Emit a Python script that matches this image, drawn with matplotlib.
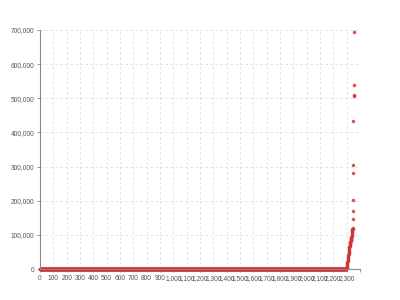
import matplotlib
matplotlib.use("Agg")
import matplotlib.pyplot as plt
import numpy as np
from matplotlib.ticker import FuncFormatter

# flat part: values stay at ~0 for the first 2298 entries
flat_count = 2298
flat_value = 0

# rising tail
tail_values = [
    1000, 2500, 4500, 7000, 9500, 12000, 15000, 18000, 21000, 24000,
    27000, 30000, 33000, 36000, 39000, 42000, 45000, 48000, 51000, 54000,
    57000, 60000, 63000, 65000, 67000, 70000, 72000, 74000, 76000, 78000,
    80000, 82000, 84000, 86000, 88000, 89000, 90000, 92000, 95000, 98000,
    101000, 104000, 107000, 110000, 113000, 116000, 118000, 120000,
]

# outliers at the very end
outlier_values = [147000, 170000, 202000, 282000, 304000,
                  433000, 507000, 510000, 539000, 694000]

x_ticks = list(range(0, 2500, 100))
x_tick_labels = [f"{t:,}" for t in x_ticks[:-1]] + [""]
y_ticks = list(range(0, 800000, 100000))

values = [flat_value] * flat_count + tail_values + outlier_values
index = np.arange(len(values))

plt.rcParams["font.family"] = ["Liberation Sans", "DejaVu Sans"]

fig = plt.figure(figsize=(4, 3), dpi=100)
ax = fig.add_axes([0.1, 0.1033, 0.8, 0.7967])

ax.plot(index, values, linestyle="none", marker="o", markersize=2.5,
        markeredgewidth=0, color="#d03434", alpha=0.85, clip_on=False)

ax.set_xlim(0, 2400)
ax.set_ylim(0, 700000)
ax.set_xticks(x_ticks)
ax.set_xticklabels(x_tick_labels)
ax.set_yticks(y_ticks)
ax.yaxis.set_major_formatter(FuncFormatter(lambda v, _: f"{int(v):,}"))

ax.grid(True, color="#dddddd", linestyle=(0, (3, 3)), linewidth=0.6)
ax.set_axisbelow(True)
for side in ("top", "right"):
    ax.spines[side].set_visible(False)
for side in ("left", "bottom"):
    ax.spines[side].set_color("#888888")
    ax.spines[side].set_linewidth(0.8)
ax.tick_params(axis="both", labelsize=4.8, colors="#888888", labelcolor="#555555",
               length=2.5, width=0.6, pad=1.5)

fig.savefig("out.png", dpi=100)
